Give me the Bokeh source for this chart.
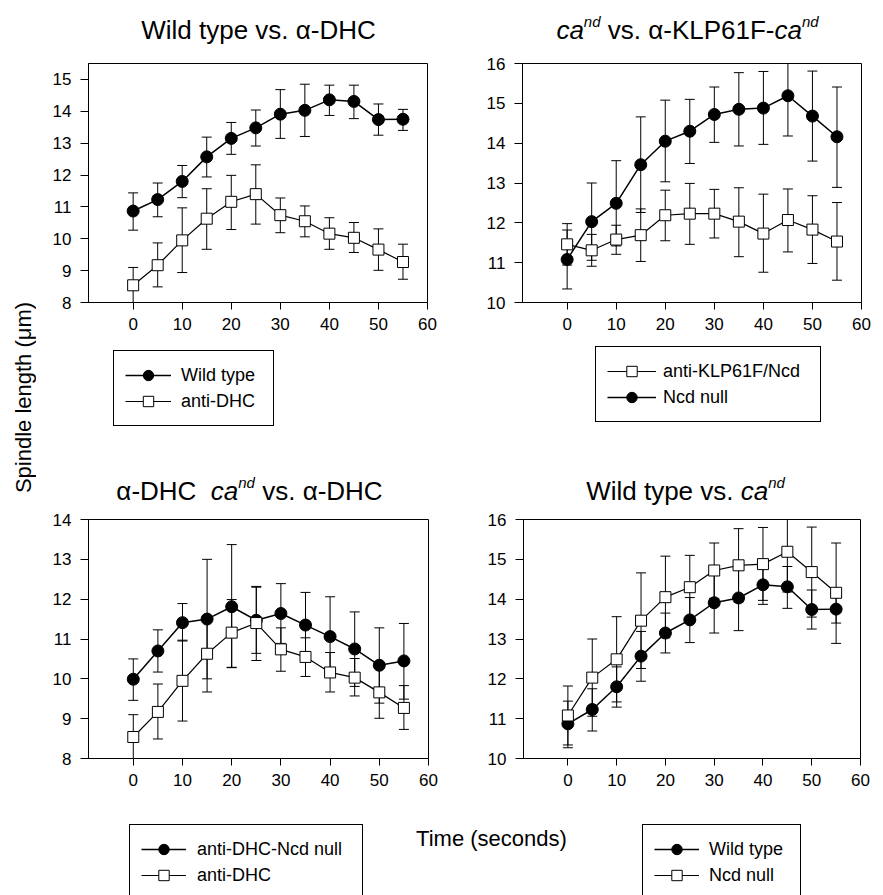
import math
from bokeh.plotting import figure
from bokeh.models import (Range1d, FixedTicker, ColumnDataSource, Whisker, TeeHead,
                          Legend, LegendItem, Label)
from bokeh.layouts import row, column
from bokeh.embed import file_html
from bokeh.resources import INLINE

# ---------------- data ----------------
time_s = [0, 5, 10, 15, 20, 25, 30, 35, 40, 45, 50, 55]
x_ticks = [0, 10, 20, 30, 40, 50, 60]

wt_mean = [10.87, 11.23, 11.80, 12.57, 13.15, 13.48, 13.91, 14.03, 14.36, 14.31, 13.74, 13.75]
wt_upper = [11.44, 11.75, 12.30, 13.19, 13.65, 14.04, 14.68, 14.85, 14.82, 14.82, 14.23, 14.06]
wt_lower = [10.27, 10.69, 11.29, 11.94, 12.65, 12.91, 13.15, 13.21, 13.87, 13.77, 13.25, 13.40]

dhc_mean = [8.54, 9.17, 9.95, 10.63, 11.16, 11.40, 10.74, 10.55, 10.16, 10.03, 9.66, 9.27]
dhc_upper = [9.10, 9.87, 10.97, 11.57, 11.99, 12.32, 11.28, 11.03, 10.66, 10.51, 10.31, 9.83]
dhc_lower = [8.00, 8.49, 8.94, 9.67, 10.29, 10.46, 10.19, 10.06, 9.67, 9.57, 9.01, 8.73]

ncd_mean = [11.08, 12.03, 12.49, 13.46, 14.05, 14.30, 14.72, 14.85, 14.88, 15.19, 14.68, 14.16]
ncd_upper = [11.82, 13.00, 13.56, 14.66, 15.08, 15.10, 15.41, 15.77, 15.80, 16.00, 15.81, 15.41]
ncd_lower = [10.34, 11.06, 11.42, 12.26, 13.03, 13.49, 14.02, 13.93, 13.97, 14.18, 13.55, 12.89]

klp_mean = [11.46, 11.31, 11.58, 11.69, 12.19, 12.23, 12.23, 12.03, 11.73, 12.07, 11.83, 11.53]
klp_upper = [11.98, 11.71, 11.94, 12.35, 12.82, 12.99, 12.84, 12.88, 12.72, 12.85, 12.68, 12.51]
klp_lower = [10.94, 10.91, 11.21, 11.03, 11.55, 11.46, 11.62, 11.15, 10.76, 11.27, 10.98, 10.56]

dhcncd_mean = [9.99, 10.70, 11.41, 11.50, 11.81, 11.47, 11.64, 11.35, 11.06, 10.75, 10.34, 10.45]
dhcncd_upper = [10.50, 11.23, 11.89, 13.00, 13.37, 12.30, 12.39, 12.17, 12.06, 11.68, 11.28, 11.39]
dhcncd_lower = [9.46, 10.17, 10.95, 10.00, 10.28, 10.64, 10.89, 10.52, 10.06, 9.81, 9.39, 9.49]

y_ticks_a = [8, 9, 10, 11, 12, 13, 14, 15]
y_ticks_b = [10, 11, 12, 13, 14, 15, 16]
y_ticks_c = [8, 9, 10, 11, 12, 13, 14]
y_ticks_d = [10, 11, 12, 13, 14, 15, 16]

FONT = "Liberation Sans"

# approximate Arial / Liberation Sans advance widths (1/1000 em)
CW = {' ': 278, '.': 278, '-': 333, '/': 278, '(': 333, ')': 333,
      'a': 556, 'c': 500, 'd': 556, 'e': 556, 'g': 556, 'h': 556, 'i': 222, 'l': 222,
      'm': 833, 'n': 556, 'o': 556, 'p': 556, 's': 500, 't': 278, 'u': 556, 'v': 500,
      'y': 500, 'C': 722, 'D': 722, 'F': 611, 'H': 722, 'K': 667, 'L': 556, 'N': 722,
      'P': 667, 'S': 667, 'T': 611, 'W': 944, '\u03b1': 578, '\u03bc': 576}


def tw(s, size):
    return sum(CW.get(ch, 556) for ch in s) * size / 1000.0


def make_panel(width, height, left, right, top, bottom, yr, yticks):
    p = figure(width=width, height=height, x_range=Range1d(-9.1, 60), y_range=Range1d(*yr),
               output_backend="svg", toolbar_location=None,
               min_border_left=left, min_border_right=right,
               min_border_top=top, min_border_bottom=bottom)
    p.grid.visible = False
    p.outline_line_color = "black"
    p.outline_line_width = 1
    p.outline_line_alpha = 1
    p.xaxis.ticker = FixedTicker(ticks=x_ticks, minor_ticks=[])
    p.yaxis.ticker = FixedTicker(ticks=yticks, minor_ticks=[])
    for ax, tout, st in ((p.xaxis, 7, 8), (p.yaxis, 8, 9)):
        ax.axis_line_color = "black"
        ax.axis_line_width = 1
        ax.major_tick_line_color = "black"
        ax.major_tick_in = 0
        ax.major_tick_out = tout
        ax.minor_tick_line_color = None
        ax.major_label_standoff = st
        ax.major_label_text_font = FONT
        ax.major_label_text_font_size = "17px"
        ax.major_label_text_color = "black"
    return p


def canvas(width, height):
    # a plain drawing area (pixel coordinates, y up) for shared texts and legends
    c = figure(width=width, height=height, x_range=Range1d(0, width), y_range=Range1d(0, height),
               output_backend="svg", toolbar_location=None,
               x_axis_location=None, y_axis_location=None,
               min_border_left=0, min_border_right=0, min_border_top=0, min_border_bottom=0)
    c.grid.visible = False
    c.outline_line_color = None
    return c


def add_series(p, mean, upper, lower, filled):
    src = ColumnDataSource(dict(t=time_s, m=mean, u=upper, l=lower))
    w = Whisker(source=src, base="t", upper="u", lower="l", dimension="height",
                line_color="black", line_width=1,
                upper_head=TeeHead(size=10, line_color="black", line_width=1),
                lower_head=TeeHead(size=10, line_color="black", line_width=1))
    p.add_layout(w)
    lr = p.line("t", "m", source=src, line_color="black", line_width=1.5 if filled else 1.2)
    if filled:
        sr = p.scatter("t", "m", source=src, marker="circle", size=12,
                       fill_color="black", line_color="black", line_width=1)
    else:
        sr = p.scatter("t", "m", source=src, marker="square", size=11,
                       fill_color="white", line_color="black", line_width=1)
    return [lr, sr]


def legend_proxy(c, mean, filled):
    # hidden renderers carrying the series style, used only by a legend on a canvas
    src = ColumnDataSource(dict(t=time_s, m=mean))
    lr = c.line("t", "m", source=src, line_color="black", line_width=1.6 if filled else 1.2,
                visible=False)
    if filled:
        sr = c.scatter("t", "m", source=src, marker="circle", size=12, fill_color="black",
                       line_color="black", visible=False)
    else:
        sr = c.scatter("t", "m", source=src, marker="square", size=11, fill_color="white",
                       line_color="black", visible=False)
    return [lr, sr]


def add_legend(c, items, loc, glyph_w, standoff, label_w, padding=11, glyph_h=26, spacing=0):
    leg = Legend(items=[LegendItem(label=lab, renderers=r) for lab, r in items],
                 location=loc, orientation="vertical", padding=padding, spacing=spacing,
                 margin=0, glyph_width=glyph_w, glyph_height=glyph_h, label_height=glyph_h,
                 label_standoff=standoff, label_width=label_w,
                 label_text_font=FONT, label_text_font_size="18px", label_text_color="black",
                 border_line_color="black", border_line_width=1, border_line_alpha=1,
                 background_fill_color="white", background_fill_alpha=1,
                 inactive_fill_alpha=0)
    c.add_layout(leg)


def add_title(c, runs, cx, by):
    # runs: (text, font size, italic, raise in px); pixel coordinates on a canvas
    total = sum(tw(t, s) for t, s, it, dy in runs)
    x = cx - total / 2.0
    for t, s, it, dy in runs:
        lead = len(t) - len(t.lstrip(' '))
        txt = t.strip(' ')
        c.add_layout(Label(x=x + tw(' ' * lead, s), y=by + dy,
                           text=txt, text_font=FONT, text_font_size=f"{s}px",
                           text_font_style="italic" if it else "normal",
                           text_align="left", text_baseline="alphabetic", text_color="black"))
        x += tw(t, s)


TS = 26   # title font size
SS = 15   # superscript font size
SUP = 8   # superscript raise

# ---------------- the four panels ----------------
pa = make_panel(424, 289, 52, 33, 10, 40, (8, 15.5), y_ticks_a)
add_series(pa, wt_mean, wt_upper, wt_lower, True)
add_series(pa, dhc_mean, dhc_upper, dhc_lower, False)

pb = make_panel(423, 289, 62, 22, 10, 40, (10, 16), y_ticks_b)
add_series(pb, klp_mean, klp_upper, klp_lower, False)
add_series(pb, ncd_mean, ncd_upper, ncd_lower, True)

pc = make_panel(424, 301, 52, 32, 10, 51, (8, 14), y_ticks_c)
add_series(pc, dhcncd_mean, dhcncd_upper, dhcncd_lower, True)
add_series(pc, dhc_mean, dhc_upper, dhc_lower, False)

pd_ = make_panel(423, 301, 63, 23, 10, 52, (10, 16), y_ticks_d)
add_series(pd_, wt_mean, wt_upper, wt_lower, True)
add_series(pd_, ncd_mean, ncd_upper, ncd_lower, False)

# ---------------- titles of the upper panels ----------------
t1 = canvas(847, 53)
add_title(t1, [("Wild type vs. \u03b1-DHC", TS, False, 0)], 222, 24)
add_title(t1, [("ca", TS, True, 0), ("nd", SS, True, SUP),
               (" vs. \u03b1-KLP61F-", TS, False, 0), ("ca", TS, True, 0), ("nd", SS, True, SUP)],
          651, 24)

# ---------------- legends of upper panels + titles of lower panels ----------------
l1 = canvas(847, 167)
add_legend(l1, [("Wild type", legend_proxy(l1, wt_mean, True)),
                ("anti-DHC", legend_proxy(l1, dhc_mean, False))],
           (77, 83), glyph_w=46, standoff=10, label_w=81)
add_legend(l1, [("anti-KLP61F/Ncd", legend_proxy(l1, klp_mean, False)),
                ("Ncd null", legend_proxy(l1, ncd_mean, True))],
           (559, 87), glyph_w=49, standoff=7, label_w=146)
add_title(l1, [("\u03b1-DHC", TS, False, 0), ("  ca", TS, True, 0), ("nd", SS, True, SUP),
               (" vs. \u03b1-DHC", TS, False, 0)], 213, 19)
add_title(l1, [("Wild type vs. ", TS, False, 0), ("ca", TS, True, 0), ("nd", SS, True, SUP)],
          649, 19)

# ---------------- bottom strip: shared x label + lower legends ----------------
strip = canvas(847, 85)
strip.add_layout(Label(x=455, y=57, text="Time (seconds)", text_font=FONT, text_font_size="22px",
                       text_align="center", text_baseline="middle", text_color="black"))
add_legend(strip, [("anti-DHC-Ncd null", legend_proxy(strip, dhcncd_mean, True)),
                   ("anti-DHC", legend_proxy(strip, dhc_mean, False))],
           (93, -5), glyph_w=45, standoff=11, label_w=154)
add_legend(strip, [("Wild type", legend_proxy(strip, wt_mean, True)),
                   ("Ncd null", legend_proxy(strip, ncd_mean, False))],
           (606, -5), glyph_w=45, standoff=10, label_w=80)

# ---------------- left strip: shared y label ----------------
lstrip = canvas(36, 895)
lstrip.add_layout(Label(x=23, y=498, text="Spindle length (\u03bcm)", angle=math.pi / 2,
                        text_font=FONT, text_font_size="22px", text_align="center",
                        text_baseline="middle", text_color="black"))

layout = row(lstrip, column(t1, row(pa, pb), l1, row(pc, pd_), strip))

open("out.html", "w").write(file_html(layout, INLINE))
